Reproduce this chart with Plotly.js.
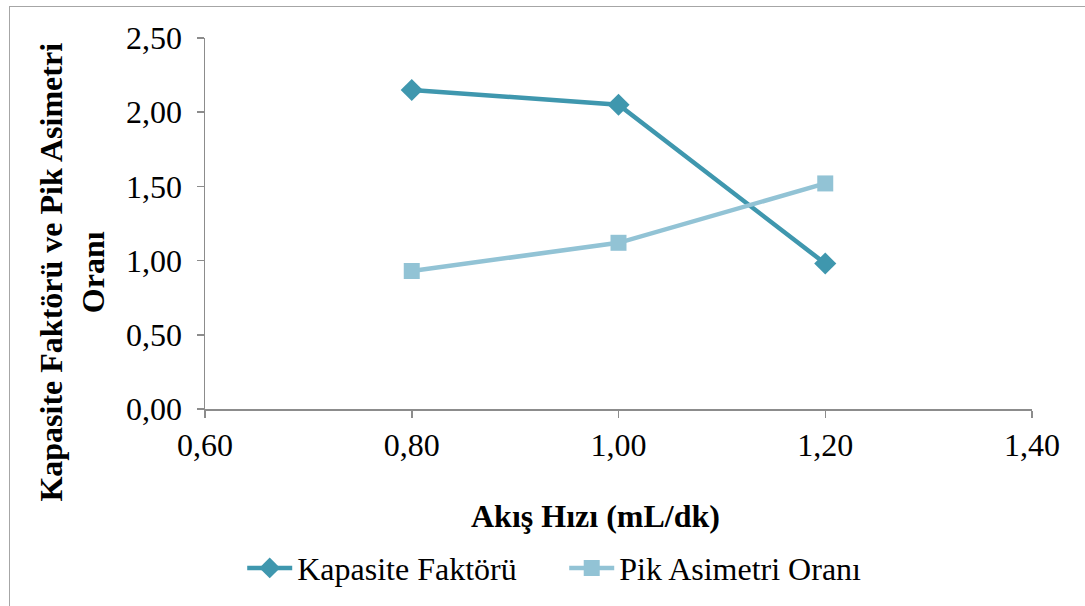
<!DOCTYPE html>
<html>
<head>
<meta charset="utf-8">
<script src="https://cdn.plot.ly/plotly-3.0.1.min.js"></script>
<style>
  html, body { margin: 0; padding: 0; background: #ffffff; }
  #wrap { position: relative; width: 1085px; height: 606px; overflow: hidden; }
  .frame-top { position: absolute; left: 9px; top: 6px; right: 0; height: 1px; background: #a6a6a6; }
  .frame-left { position: absolute; left: 9px; top: 6px; bottom: 0; width: 1px; background: #a6a6a6; }
  #chart { position: absolute; left: 0; top: 0; width: 1085px; height: 606px; }
</style>
</head>
<body>
<div id="wrap">
  <div class="frame-top"></div>
  <div class="frame-left"></div>
  <div id="chart"></div>
</div>
<script>
// Flow rate (mL/min) and the two measured responses
const flowRates = [0.80, 1.00, 1.20];
const capacityFactor = [2.15, 2.05, 0.98];
const peakAsymmetry = [0.93, 1.12, 1.52];

const seriesNames = ['Kapasite Faktörü', 'Pik Asimetri Oranı'];
const xTicks = [0.60, 0.80, 1.00, 1.20, 1.40];
const yTicks = [0.00, 0.50, 1.00, 1.50, 2.00, 2.50];
const fmt = v => v.toFixed(2).replace('.', ',');

const serif = 'Liberation Serif';
const fs = 32;

const traces = [
  {
    x: flowRates, y: capacityFactor, name: seriesNames[0],
    type: 'scatter', mode: 'lines+markers',
    line: { color: '#3f97ae', width: 4.5 },
    marker: { symbol: 'diamond', size: 17, color: '#3f97ae' }
  },
  {
    x: flowRates, y: peakAsymmetry, name: seriesNames[1],
    type: 'scatter', mode: 'lines+markers',
    line: { color: '#92c3d5', width: 4.5 },
    marker: { symbol: 'square', size: 16, color: '#92c3d5' }
  }
];

const layout = {
  width: 1085, height: 606,
  margin: { l: 205, r: 53, t: 38, b: 196 },
  paper_bgcolor: 'rgba(0,0,0,0)',
  plot_bgcolor: 'rgba(0,0,0,0)',
  font: { family: serif, size: fs, color: '#000000' },
  showlegend: true,
  legend: {
    orientation: 'h', x: 0.045, xanchor: 'left', y: -0.425, yanchor: 'middle',
    font: { family: serif, size: fs, color: '#000000' },
    itemwidth: 45, tracegroupgap: 0, entrywidth: 262
  },
  xaxis: {
    range: [0.60, 1.40],
    tickvals: xTicks, ticktext: xTicks.map(fmt),
    showgrid: false, zeroline: false,
    showline: true, linecolor: '#8c8c8c', linewidth: 1.5,
    ticks: 'outside', ticklen: 7, tickcolor: '#8c8c8c', tickwidth: 1.5,
    tickfont: { family: serif, size: fs, color: '#000000' }
  },
  yaxis: {
    range: [0, 2.50],
    tickvals: yTicks, ticktext: yTicks.map(fmt),
    showgrid: false, zeroline: false,
    showline: true, linecolor: '#8c8c8c', linewidth: 1.5,
    ticks: 'outside', ticklen: 7, tickcolor: '#8c8c8c', tickwidth: 1.5,
    ticklabelstandoff: 8,
    tickfont: { family: serif, size: fs, color: '#000000' }
  },
  annotations: [
    {
      text: '<b>Akış Hızı (mL/dk)</b>',
      xref: 'paper', yref: 'paper', x: 0.472, y: -0.288,
      xanchor: 'center', yanchor: 'middle', showarrow: false,
      font: { family: serif, size: fs, color: '#000000' }
    },
    {
      text: '<b>Kapasite Faktörü ve Pik Asimetri<br>Oranı</b>',
      xref: 'paper', yref: 'paper', x: -0.161, y: 0.37,
      xanchor: 'center', yanchor: 'middle', showarrow: false,
      textangle: -90,
      font: { family: serif, size: fs, color: '#000000' }
    }
  ]
};

Plotly.newPlot('chart', traces, layout, { displayModeBar: false, staticPlot: true });
</script>
</body>
</html>
